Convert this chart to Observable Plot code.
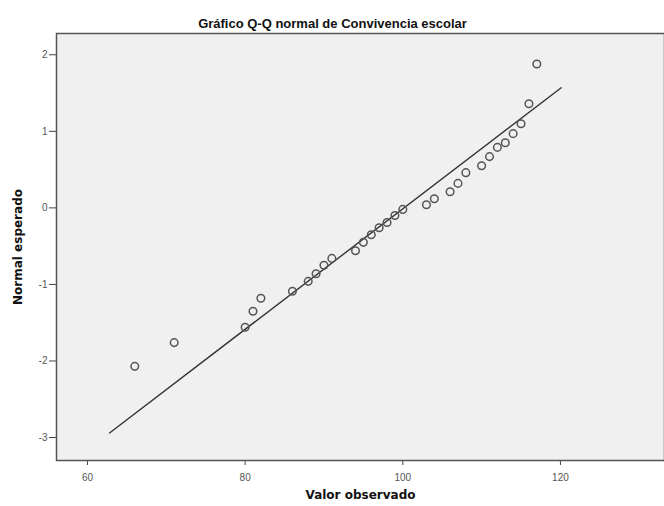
<!DOCTYPE html>
<html>
<head>
<meta charset="utf-8">
<script src="https://cdn.jsdelivr.net/npm/d3@7"></script>
<script src="https://cdn.jsdelivr.net/npm/@observablehq/plot@0.6"></script>
<style>
  html, body { margin: 0; padding: 0; background: #fff; }
  svg { display: block; }
</style>
</head>
<body>
<div id="chart"></div>
<script>
const title = "Gráfico Q-Q normal de Convivencia escolar";
const xLabel = "Valor observado";
const yLabel = "Normal esperado";

const observed = [66, 71, 80, 81, 82, 86, 88, 89, 90, 91, 94, 95, 96, 97, 98, 99, 100, 103, 104, 106, 107, 108, 110, 111, 112, 113, 114, 115, 116, 117];
const expected = [-2.07, -1.76, -1.56, -1.35, -1.18, -1.09, -0.96, -0.86, -0.75, -0.66, -0.56, -0.45, -0.35, -0.26, -0.19, -0.10, -0.02, 0.04, 0.12, 0.21, 0.32, 0.46, 0.55, 0.67, 0.79, 0.85, 0.97, 1.10, 1.36, 1.88];

// Reference line endpoints
const lineX = [62.8, 120.1];
const lineY = [-2.94, 1.57];

const xTicks = [60, 80, 100, 120];
const yTicks = [-3, -2, -1, 0, 1, 2];

const points = observed.map((v, i) => ({x: v, y: expected[i]}));
const refLine = lineX.map((v, i) => ({x: v, y: lineY[i]}));

const font = "'Liberation Sans', Arial, sans-serif";
const labelFont = "'DejaVu Sans', sans-serif";
const fmt = d => String(d);

const chart = Plot.plot({
  width: 664,
  height: 506,
  marginLeft: 56,
  marginTop: 33,
  marginRight: 0,
  marginBottom: 46,
  style: {fontFamily: font, fontSize: "10px", color: "#555", background: "#fff"},
  x: {domain: [56.07, 133.2], ticks: xTicks},
  y: {domain: [-3.30, 2.278], ticks: yTicks},
  marks: [
    Plot.frame({fill: "#f0f0f0", stroke: null}),
    Plot.axisX({ticks: xTicks, tickFormat: fmt, tickSize: 5, tickPadding: 8, label: null, stroke: "#444", fill: "#555"}),
    Plot.axisY({ticks: yTicks, tickFormat: fmt, tickSize: 7, tickPadding: 2, label: null, stroke: "#444", fill: "#555"}),
    Plot.line(refLine, {x: "x", y: "y", stroke: "#333", strokeWidth: 1.4}),
    Plot.dot(points, {x: "x", y: "y", r: 3.8, stroke: "#555", strokeWidth: 1.5, fill: "none"}),
    Plot.frame({stroke: "#555", strokeWidth: 1.5}),
    Plot.text([title], {frameAnchor: "top", dy: -15, dx: -28, fontSize: 13, fontWeight: "bold", fill: "#111"}),
    Plot.text([xLabel], {frameAnchor: "bottom", dy: 38, fontSize: 12, fontWeight: "bold", fontFamily: labelFont, fill: "#111"}),
    Plot.text([yLabel], {frameAnchor: "left", textAnchor: "middle", dx: -38, rotate: -90, fontSize: 12, fontWeight: "bold", fontFamily: labelFont, fill: "#111"})
  ]
});

document.getElementById("chart").appendChild(chart);
</script>
</body>
</html>
